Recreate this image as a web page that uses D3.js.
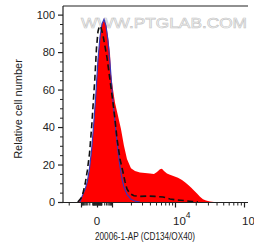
<!DOCTYPE html>
<html>
<head>
<meta charset="utf-8">
<script src="https://cdn.jsdelivr.net/npm/d3@7"></script>
<style>
  html, body { margin: 0; padding: 0; background: #fff; }
  svg { display: block; font-family: "Liberation Sans", Arial, sans-serif; }
</style>
</head>
<body>
<svg id="chart" width="254" height="249"></svg>
<script>
// Flow histogram, biexponential x axis (fluorescence), y = % of max

// sample (red fill)
const SAMPLE_X = [-1495, -819, -446, -294, -190, -118, -64, -20, 20, 64, 118, 190, 294, 446, 670, 819,
                  1037, 1116, 1245, 1389, 1550, 1730, 2003, 2319, 2783, 3339, 4006, 4640, 5178, 5775,
                  6210, 6690, 7460, 8319, 9640, 11050, 12630, 13960, 15430, 17060, 18850, 20840,
                  23040, 25460, 28130, 32150, 36730];
const SAMPLE_Y = [0, 3, 7, 11, 18, 28, 42, 58, 76, 88, 95, 97, 95, 88, 79, 68,
                  60, 53, 46, 39, 30, 23, 18, 16.5, 15.8, 15.5, 15.2, 15.0, 16.0, 17.5,
                  17.8, 16.5, 15.2, 14.5, 13.8, 13.0, 11.8, 10.5, 9.2, 7.8, 6.2, 4.5,
                  2.8, 1.5, 0.8, 0.3, 0];

// sample outline (blue)
const OUTLINE_X = [-1223, -819, -446, -294, -190, -118, -64, -20, 20, 64, 118, 190, 294, 446, 670,
                   1000, 1076, 1157, 1245, 1339, 1441, 1550, 1730, 2003, 2405, 2783];
const OUTLINE_Y = [0, 3, 7, 11, 18, 28, 42, 58, 76, 88, 95, 97.5, 94, 86, 74,
                   60, 48, 37, 27, 19, 12.5, 8, 4, 1.5, 0.3, 0];

// isotype control (black dashed)
const CONTROL_X = [-1826, -1000, -670, -446, -294, -190, -118, -76, -41, -10, 20, 52, 89, 151, 238,
                   363, 547, 819, 1037, 1116, 1200, 1339, 1495, 1608, 1730, 1931, 2236, 2783, 3727,
                   4813, 6444, 8319, 10690, 13960, 17640, 21550];
const CONTROL_Y = [0, 2, 5, 10, 17, 26, 40, 53, 66, 82, 91, 94, 93, 89, 83,
                   77, 69, 61, 53, 44, 34, 23, 16, 11, 7, 4.5, 3.3, 3.0, 3.2,
                   3.0, 2.7, 1.6, 1.1, 0.7, 0.3, 0];

const X_MAJOR = [-1000, 0, 1000, 10000, 100000];
const X_MINOR = [-10000, -900, -800, -700, -600, -500, -400, -300, -200, -100,
                 -90, -80, -70, -60, -50, -40, -30, -20, -10,
                 10, 20, 30, 40, 50, 60, 70, 80, 90,
                 100, 200, 300, 400, 500, 600, 700, 800, 900,
                 2000, 3000, 4000, 5000, 6000, 7000, 8000, 9000,
                 20000, 30000, 40000, 50000, 60000, 70000, 80000, 90000];
const X_LABELS = [[0, "0", null], [10000, "10", "4"], [100000, "10", "5"]];

const Y_MAJOR = [0, 20, 40, 60, 80, 100];
const Y_MINOR = [5, 10, 15, 25, 30, 35, 45, 50, 55, 65, 70, 75, 85, 90, 95];

const X_TITLE = "20006-1-AP (CD134/OX40)";
const Y_TITLE = "Relative cell number";
const WATERMARK = "WWW.PTGLAB.COM";

const margin = { top: 6, left: 63, right: 6, bottom: 47 };
const W = 254, H = 249;
const plotW = W - margin.left - margin.right;
const plotH = H - margin.top - margin.bottom;

const svg = d3.select("#chart");
const g = svg.append("g").attr("transform", `translate(${margin.left},${margin.top})`);

// biex-like transform, then a piecewise scale through the decade anchors
const tf = v => Math.asinh(v / 100);
const ANCHORS = [-1000, 0, 1000, 10000, 100000];
const x = d3.scaleLinear()
  .domain(ANCHORS.map(tf))
  .range([18, 34, 49, 112, 181]);
const xp = v => x(tf(v));

const y = d3.scaleLinear().domain([0, 104.6]).range([plotH, 0]);

// watermark
g.append("text")
  .attr("x", 18).attr("y", 22)
  .attr("textLength", 166).attr("lengthAdjust", "spacingAndGlyphs")
  .style("font-size", "14px")
  .style("fill", "#fbfbfb")
  .style("stroke", "#c4c4c4")
  .style("stroke-width", 0.6)
  .text(WATERMARK);

// red filled sample
const sample = SAMPLE_X.map((v, i) => [v, SAMPLE_Y[i]]);
g.append("path")
  .datum(sample)
  .attr("fill", "#ff0000")
  .attr("d", d3.area().x(d => xp(d[0])).y0(y(0)).y1(d => y(d[1])));

// blue outline
const outline = OUTLINE_X.map((v, i) => [v, OUTLINE_Y[i]]);
g.append("path")
  .datum(outline)
  .attr("fill", "none")
  .attr("stroke", "#3b34b8")
  .attr("stroke-width", 1.2)
  .attr("d", d3.line().x(d => xp(d[0])).y(d => y(d[1])));

// dashed control
const control = CONTROL_X.map((v, i) => [v, CONTROL_Y[i]]);
g.append("path")
  .datum(control)
  .attr("fill", "none")
  .attr("stroke", "#111")
  .attr("stroke-width", 1.6)
  .attr("stroke-dasharray", "6,3.5")
  .attr("d", d3.line().x(d => xp(d[0])).y(d => y(d[1])));

// frame: top + left + bottom
g.append("line").attr("x1", 0).attr("x2", plotW).attr("y1", 0).attr("y2", 0)
  .attr("stroke", "#222").attr("stroke-width", 1.2);
g.append("line").attr("x1", 0).attr("x2", 0).attr("y1", 0).attr("y2", plotH + 0.5)
  .attr("stroke", "#222").attr("stroke-width", 1.2);

// x axis
const xAxisG = g.append("g").attr("transform", `translate(0,${plotH + 0.5})`);
xAxisG.append("line").attr("x1", 0).attr("x2", plotW).attr("stroke", "#222").attr("stroke-width", 1);
xAxisG.append("g")
  .call(d3.axisBottom(x).tickValues(X_MINOR.map(tf)).tickSize(3).tickFormat(""))
  .call(a => a.select(".domain").remove())
  .selectAll("line").attr("stroke", "#222");
xAxisG.append("g")
  .call(d3.axisBottom(x).tickValues(X_MAJOR.map(tf)).tickSize(5).tickFormat(""))
  .call(a => a.select(".domain").remove())
  .selectAll("line").attr("stroke", "#222").attr("stroke-width", 1.2);

X_LABELS.forEach(([v, base, sup]) => {
  const t = xAxisG.append("text")
    .attr("y", 22)
    .style("font-size", "11.5px").style("fill", "#222");
  if (sup === null) {
    t.attr("x", xp(v)).attr("text-anchor", "middle").text(base);
  } else {
    t.attr("x", xp(v) - 2).attr("text-anchor", "start");
    t.append("tspan").text(base);
    t.append("tspan").attr("dy", -7).style("font-size", "8.5px").text(sup);
  }
});

// y axis
const yAxisG = g.append("g");
yAxisG.append("g")
  .call(d3.axisLeft(y).tickValues(Y_MINOR).tickSize(3).tickFormat(""))
  .call(a => a.select(".domain").remove())
  .selectAll("line").attr("stroke", "#222");
yAxisG.append("g")
  .call(d3.axisLeft(y).tickValues(Y_MAJOR).tickSize(5).tickPadding(3))
  .call(a => a.select(".domain").remove())
  .call(a => a.selectAll("line").attr("stroke", "#222").attr("stroke-width", 1.2))
  .call(a => a.selectAll("text").style("font-size", "11px").style("fill", "#222")
                .style("font-family", "'Liberation Sans', Arial, sans-serif"));

// titles
svg.append("text")
  .attr("x", 145).attr("y", 240)
  .attr("text-anchor", "middle")
  .attr("textLength", 100).attr("lengthAdjust", "spacingAndGlyphs")
  .style("font-size", "10.5px").style("fill", "#222")
  .text(X_TITLE);

svg.append("text")
  .attr("transform", `translate(22,${margin.top + plotH / 2 + 5}) rotate(-90)`)
  .attr("text-anchor", "middle")
  .style("font-size", "11px").style("fill", "#222")
  .text(Y_TITLE);
</script>
</body>
</html>
